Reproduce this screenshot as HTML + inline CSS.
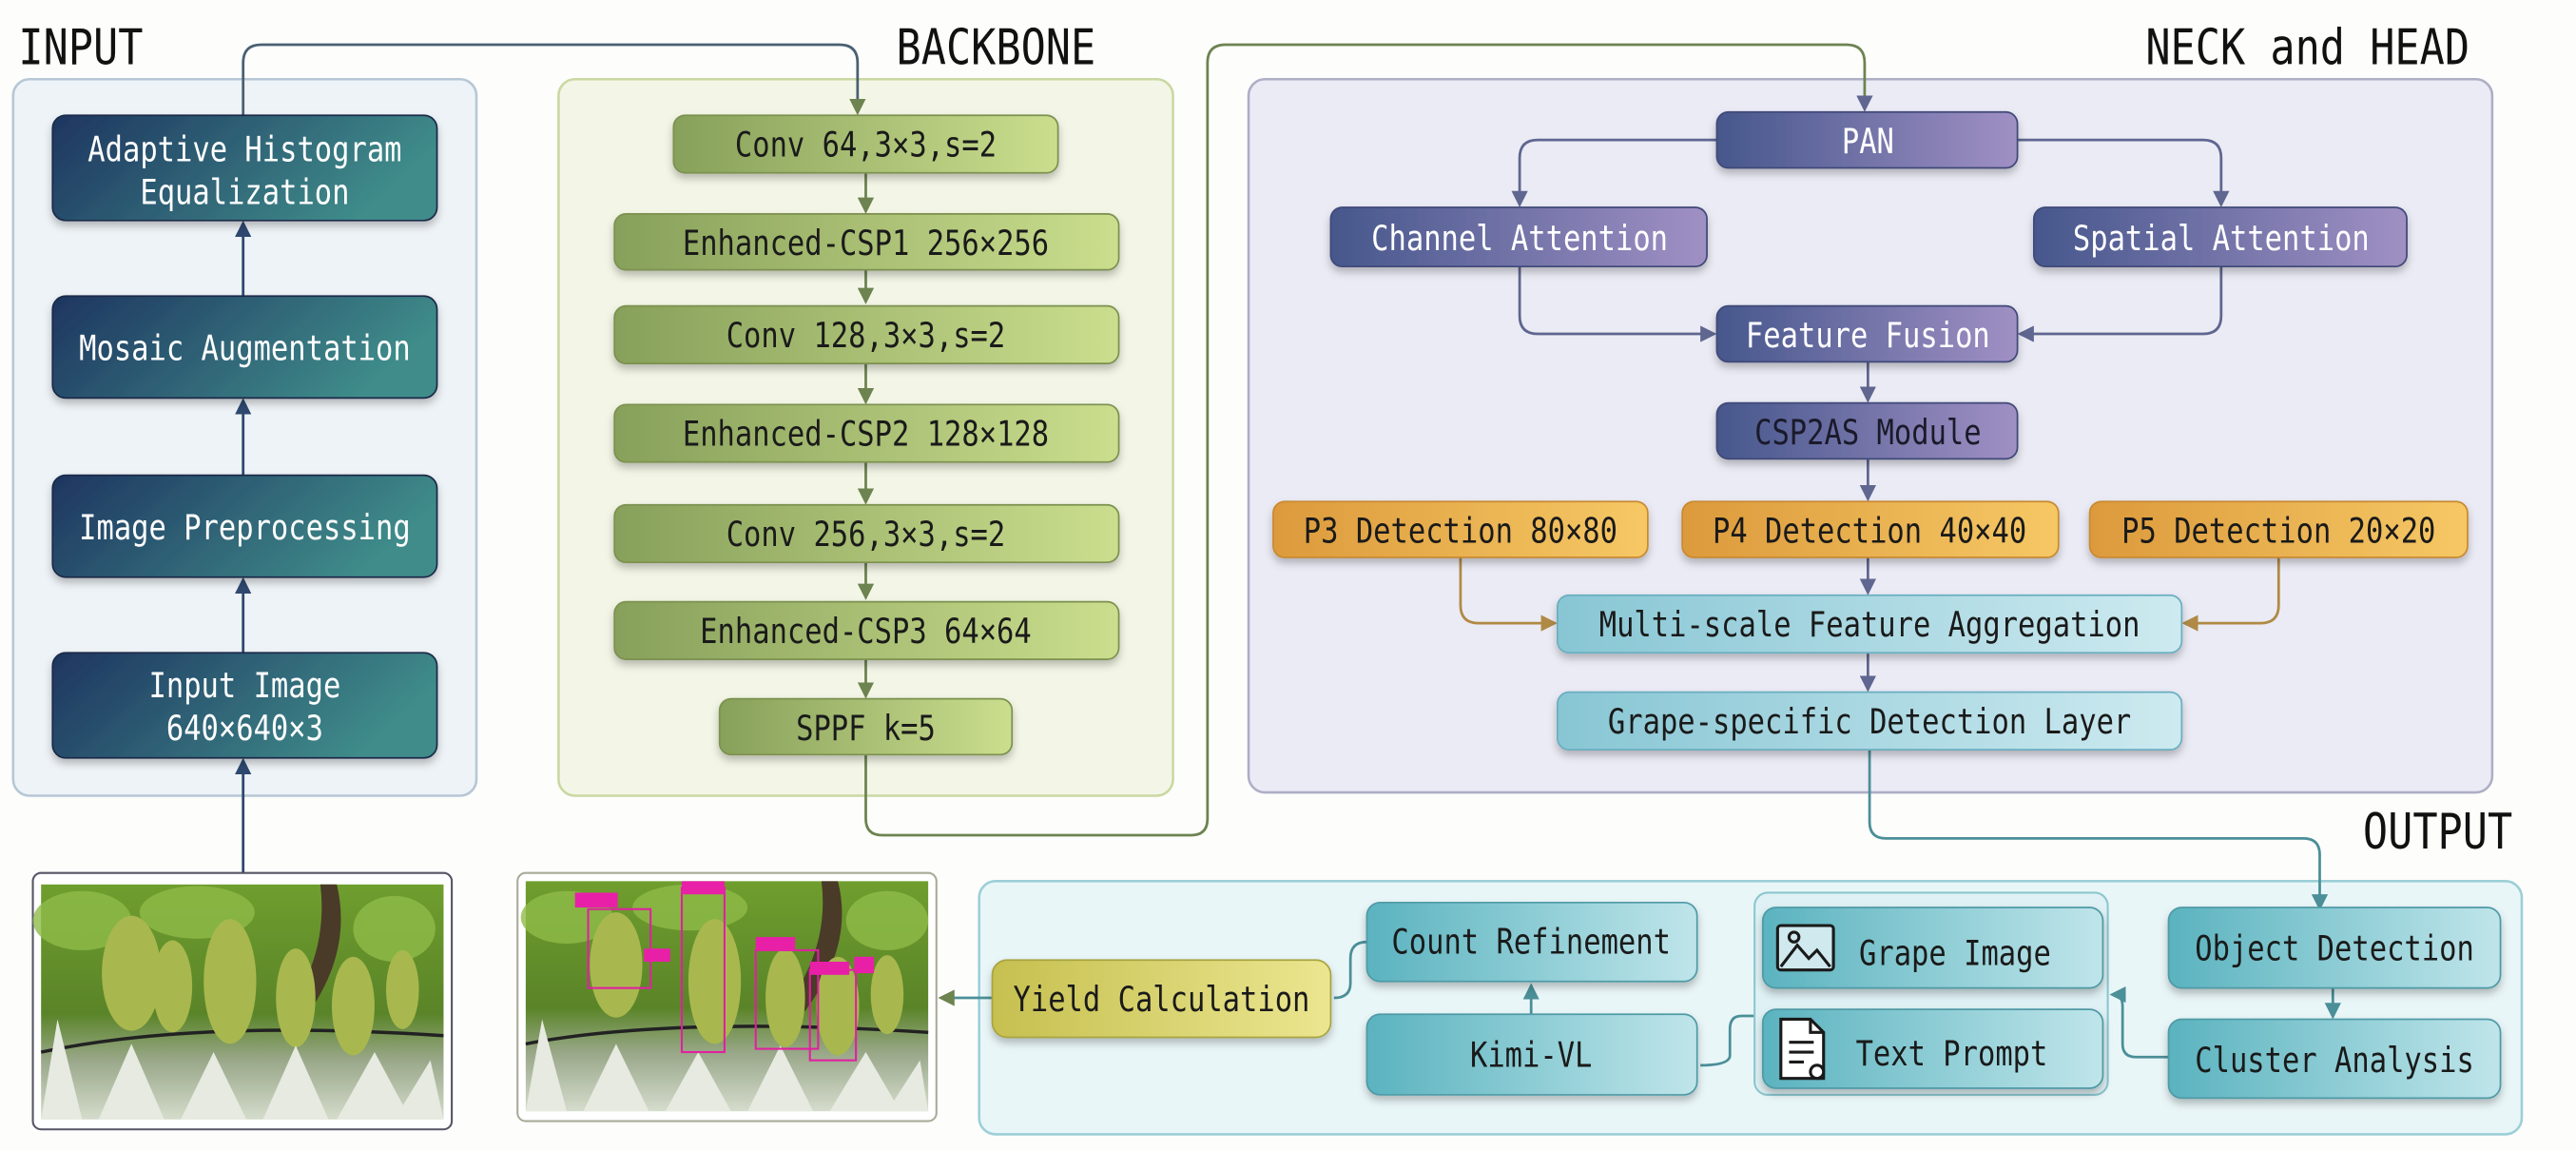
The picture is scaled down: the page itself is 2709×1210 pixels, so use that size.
<!DOCTYPE html>
<html><head><meta charset="utf-8"><style>
html,body{margin:0;padding:0;background:#fdfdfc;}
svg{display:block}
text{font-family:"DejaVu Sans Mono","Liberation Mono",monospace;transform-box:fill-box;transform-origin:center;transform:scaleX(0.84);}
</style></head><body>
<svg width="2709" height="1210" viewBox="0 0 1568 700" xmlns="http://www.w3.org/2000/svg">
<defs>
<linearGradient id="gIn" x1="0" y1="0" x2="1" y2="0.3"><stop offset="0" stop-color="#1e3560"/><stop offset="1" stop-color="#3f8c8a"/></linearGradient>
<linearGradient id="gBb" x1="0" y1="0" x2="1" y2="0"><stop offset="0" stop-color="#87a05a"/><stop offset="1" stop-color="#cbde8e"/></linearGradient>
<linearGradient id="gNk" x1="0" y1="0" x2="1" y2="0"><stop offset="0" stop-color="#46578c"/><stop offset="1" stop-color="#a090c4"/></linearGradient>
<linearGradient id="gOr" x1="0" y1="0" x2="1" y2="0"><stop offset="0" stop-color="#dc9a3c"/><stop offset="1" stop-color="#f6c865"/></linearGradient>
<linearGradient id="gLb" x1="0" y1="0" x2="1" y2="0"><stop offset="0" stop-color="#88c6d4"/><stop offset="1" stop-color="#cdeaf0"/></linearGradient>
<linearGradient id="gOt" x1="0" y1="0" x2="1" y2="0"><stop offset="0" stop-color="#5ab3bf"/><stop offset="1" stop-color="#bfe5ea"/></linearGradient>
<linearGradient id="gYl" x1="0" y1="0" x2="1" y2="0"><stop offset="0" stop-color="#c6c050"/><stop offset="1" stop-color="#ebe690"/></linearGradient>
<linearGradient id="gPh" x1="0" y1="0" x2="0" y2="1"><stop offset="0" stop-color="#6f9e2e"/><stop offset="0.55" stop-color="#5a8428"/><stop offset="0.75" stop-color="#9aa88a"/><stop offset="1" stop-color="#d5dccc"/></linearGradient>
<filter id="sh" x="-10%" y="-20%" width="120%" height="150%"><feDropShadow dx="0" dy="3" stdDeviation="2.5" flood-opacity="0.25"/></filter>
<marker id="aN" markerWidth="10" markerHeight="10" refX="8" refY="5" orient="auto" markerUnits="userSpaceOnUse"><path d="M0,0 L10,5 L0,10 Z" fill="#2f4870"/></marker>
<marker id="aG" markerWidth="10" markerHeight="10" refX="8" refY="5" orient="auto" markerUnits="userSpaceOnUse"><path d="M0,0 L10,5 L0,10 Z" fill="#6d8350"/></marker>
<marker id="aP" markerWidth="10" markerHeight="10" refX="8" refY="5" orient="auto" markerUnits="userSpaceOnUse"><path d="M0,0 L10,5 L0,10 Z" fill="#5f6690"/></marker>
<marker id="aO" markerWidth="10" markerHeight="10" refX="8" refY="5" orient="auto" markerUnits="userSpaceOnUse"><path d="M0,0 L10,5 L0,10 Z" fill="#b08a45"/></marker>
<marker id="aT" markerWidth="10" markerHeight="10" refX="8" refY="5" orient="auto" markerUnits="userSpaceOnUse"><path d="M0,0 L10,5 L0,10 Z" fill="#4b8f98"/></marker>
</defs>

<!-- titles -->
<g font-size="30" fill="#111">
<text x="4" y="39">INPUT</text>
<text x="534" y="39">BACKBONE</text>
<text x="1522" y="39" text-anchor="end">NECK and HEAD</text>
<text x="1538" y="516" text-anchor="end">OUTPUT</text>
</g>

<!-- panels -->
<rect x="8" y="48" width="282" height="436" rx="10" fill="#eef3f7" stroke="#b6c7d5" stroke-width="1.5"/>
<rect x="340" y="48" width="374" height="436" rx="10" fill="#f3f6e6" stroke="#cad8a2" stroke-width="1.5"/>
<rect x="760" y="48" width="757" height="434" rx="10" fill="#ebebf5" stroke="#aeaec6" stroke-width="1.5"/>
<rect x="596" y="536" width="939" height="154" rx="10" fill="#e9f6f8" stroke="#9ccfd7" stroke-width="1.5"/>

<!-- connectors -->
<g fill="none" stroke-width="1.6">
<path d="M148,70 V38 Q148,27 159,27 H511 Q522,27 522,38 V68" stroke="#4a6072" marker-end="url(#aG)"/>
<path d="M148,531 V463" stroke="#2f4870" marker-end="url(#aN)"/>
<path d="M148,397 V353" stroke="#2f4870" marker-end="url(#aN)"/>
<path d="M148,289 V244" stroke="#2f4870" marker-end="url(#aN)"/>
<path d="M148,180 V136" stroke="#2f4870" marker-end="url(#aN)"/>
<g stroke="#6d8350">
<path d="M527,105 V128" marker-end="url(#aG)"/>
<path d="M527,164 V183" marker-end="url(#aG)"/>
<path d="M527,221 V244" marker-end="url(#aG)"/>
<path d="M527,281 V305" marker-end="url(#aG)"/>
<path d="M527,342 V363" marker-end="url(#aG)"/>
<path d="M527,401 V423" marker-end="url(#aG)"/>
<path d="M527,459 V498 Q527,508 537,508 H725 Q735,508 735,498 V38 Q735,27 746,27 H1124 Q1135,27 1135,38 V66" marker-end="url(#aP)"/>
</g>
<g stroke="#5f6690">
<path d="M1045,85 H936 Q925,85 925,96 V124" marker-end="url(#aP)"/>
<path d="M1228,85 H1341 Q1352,85 1352,96 V124" marker-end="url(#aP)"/>
<path d="M925,162 V192 Q925,203 936,203 H1043" marker-end="url(#aP)"/>
<path d="M1352,162 V192 Q1352,203 1341,203 H1230" marker-end="url(#aP)"/>
<path d="M1137,220 V243" marker-end="url(#aP)"/>
<path d="M1137,279 V303" marker-end="url(#aP)"/>
<path d="M1137,339 V360" marker-end="url(#aP)"/>
<path d="M1137,397 V419" marker-end="url(#aP)"/>
</g>
<g stroke="#b08a45">
<path d="M889,339 V368 Q889,379 900,379 H946" marker-end="url(#aO)"/>
<path d="M1387,339 V368 Q1387,379 1376,379 H1330" marker-end="url(#aO)"/>
</g>
<g stroke="#4b8f98">
<path d="M1138,456 V500 Q1138,510 1148,510 H1402 Q1412,510 1412,520 V552" marker-end="url(#aT)"/>
<path d="M1420,601 V618" marker-end="url(#aT)"/>
<path d="M1320,643 H1300 Q1292,643 1292,635 V612 Q1292,605 1286,605" marker-end="url(#aT)"/>
<path d="M1068,618 H1060 Q1053,618 1053,626 V642 Q1053,648 1035,648"/>
<path d="M932,617 V600" marker-end="url(#aT)"/>
<path d="M832,573 Q822,573 822,583 V598 Q822,607 812,607"/>
<path d="M604,607 H573" marker-end="url(#aG)"/>
</g>
</g>

<!-- input boxes -->
<g filter="url(#sh)" stroke="#1a2c48" stroke-width="1">
<rect x="32" y="70" width="234" height="64" rx="8" fill="url(#gIn)"/>
<rect x="32" y="180" width="234" height="62" rx="8" fill="url(#gIn)"/>
<rect x="32" y="289" width="234" height="62" rx="8" fill="url(#gIn)"/>
<rect x="32" y="397" width="234" height="64" rx="8" fill="url(#gIn)"/>
</g>
<g fill="#fff" font-size="21" text-anchor="middle">
<text x="149" y="98">Adaptive Histogram</text>
<text x="149" y="124">Equalization</text>
<text x="149" y="219">Mosaic Augmentation</text>
<text x="149" y="328">Image Preprocessing</text>
<text x="149" y="424">Input Image</text>
<text x="149" y="450">640×640×3</text>
</g>

<!-- backbone boxes -->
<g filter="url(#sh)" stroke="#7b9150" stroke-width="1">
<rect x="410" y="70" width="234" height="35" rx="7" fill="url(#gBb)"/>
<rect x="374" y="130" width="307" height="34" rx="7" fill="url(#gBb)"/>
<rect x="374" y="186" width="307" height="35" rx="7" fill="url(#gBb)"/>
<rect x="374" y="246" width="307" height="35" rx="7" fill="url(#gBb)"/>
<rect x="374" y="307" width="307" height="35" rx="7" fill="url(#gBb)"/>
<rect x="374" y="366" width="307" height="35" rx="7" fill="url(#gBb)"/>
<rect x="438" y="425" width="178" height="34" rx="7" fill="url(#gBb)"/>
</g>
<g fill="#1a1a1a" font-size="21" text-anchor="middle">
<text x="527" y="95">Conv 64,3×3,s=2</text>
<text x="527" y="155">Enhanced-CSP1 256×256</text>
<text x="527" y="211">Conv 128,3×3,s=2</text>
<text x="527" y="271">Enhanced-CSP2 128×128</text>
<text x="527" y="332">Conv 256,3×3,s=2</text>
<text x="527" y="391">Enhanced-CSP3 64×64</text>
<text x="527" y="450">SPPF k=5</text>
</g>

<!-- neck boxes -->
<g filter="url(#sh)" stroke="#3f4a78" stroke-width="1">
<rect x="1045" y="68" width="183" height="34" rx="7" fill="url(#gNk)"/>
<rect x="810" y="126" width="229" height="36" rx="7" fill="url(#gNk)"/>
<rect x="1238" y="126" width="227" height="36" rx="7" fill="url(#gNk)"/>
<rect x="1045" y="186" width="183" height="34" rx="7" fill="url(#gNk)"/>
<rect x="1045" y="245" width="183" height="34" rx="7" fill="url(#gNk)"/>
</g>
<g filter="url(#sh)" stroke="#c88a30" stroke-width="1">
<rect x="775" y="305" width="228" height="34" rx="7" fill="url(#gOr)"/>
<rect x="1024" y="305" width="229" height="34" rx="7" fill="url(#gOr)"/>
<rect x="1272" y="305" width="230" height="34" rx="7" fill="url(#gOr)"/>
</g>
<g filter="url(#sh)" stroke="#6aaec0" stroke-width="1">
<rect x="948" y="362" width="380" height="35" rx="7" fill="url(#gLb)"/>
<rect x="948" y="421" width="380" height="35" rx="7" fill="url(#gLb)"/>
</g>
<g font-size="21" text-anchor="middle">
<text x="1137" y="93" fill="#fff">PAN</text>
<text x="925" y="152" fill="#fff">Channel Attention</text>
<text x="1352" y="152" fill="#fff">Spatial Attention</text>
<text x="1137" y="211" fill="#fff">Feature Fusion</text>
<text x="1137" y="270" fill="#1a1a2a">CSP2AS Module</text>
<text x="889" y="330" fill="#1a1a1a">P3 Detection 80×80</text>
<text x="1138" y="330" fill="#1a1a1a">P4 Detection 40×40</text>
<text x="1387" y="330" fill="#1a1a1a">P5 Detection 20×20</text>
<text x="1138" y="387" fill="#1a1a1a">Multi-scale Feature Aggregation</text>
<text x="1138" y="446" fill="#1a1a1a">Grape-specific Detection Layer</text>
</g>

<!-- output -->
<rect x="1068" y="543" width="215" height="123" rx="8" fill="#dff1f4" stroke="#8cc6cf" stroke-width="1.2"/>
<g filter="url(#sh)" stroke="#4f9aa6" stroke-width="1">
<rect x="604" y="584" width="206" height="47" rx="9" fill="url(#gYl)" stroke="#a8a440"/>
<rect x="832" y="549" width="201" height="48" rx="8" fill="url(#gOt)"/>
<rect x="832" y="617" width="201" height="49" rx="8" fill="url(#gOt)"/>
<rect x="1073" y="552" width="207" height="49" rx="8" fill="url(#gOt)"/>
<rect x="1073" y="614" width="207" height="48" rx="8" fill="url(#gOt)"/>
<rect x="1320" y="552" width="202" height="49" rx="8" fill="url(#gOt)"/>
<rect x="1320" y="620" width="202" height="48" rx="8" fill="url(#gOt)"/>
</g>
<!-- icons -->
<g fill="none" stroke="#1a1a1a" stroke-width="1.8">
<rect x="1082" y="563" width="34" height="27" rx="2" fill="#cfe9ee"/>
<path d="M1084,588 L1094,575 L1101,583 L1106,578 L1114,588"/>
<circle cx="1092" cy="570" r="3"/>
<path d="M1084,620 H1102 L1110,628 V656 H1084 Z" fill="#fff"/>
<path d="M1102,620 V628 H1110 M1089,634 H1104 M1089,640 H1104 M1089,646 H1098"/>
<circle cx="1106" cy="652" r="4" fill="#fff"/>
</g>
<g fill="#1a1a1a" font-size="21" text-anchor="middle">
<text x="707" y="615">Yield Calculation</text>
<text x="932" y="580">Count Refinement</text>
<text x="932" y="649">Kimi-VL</text>
<text x="1190" y="587">Grape Image</text>
<text x="1188" y="648">Text Prompt</text>
<text x="1421" y="584">Object Detection</text>
<text x="1421" y="652">Cluster Analysis</text>
</g>

<!-- photos -->
<g>
<rect x="20" y="531" width="255" height="156" rx="5" fill="#fff" stroke="#556" stroke-width="1.2"/>
<rect x="25" y="538" width="245" height="143" fill="url(#gPh)"/>
<g fill="#8fbb48" opacity="0.8"><ellipse cx="50" cy="560" rx="30" ry="18"/><ellipse cx="120" cy="555" rx="35" ry="16"/><ellipse cx="240" cy="565" rx="25" ry="20"/></g>
<path d="M205,538 Q215,580 185,620 L175,615 Q200,580 195,538 Z" fill="#4a3a28"/>
<path d="M25,640 Q120,620 270,630" stroke="#222" stroke-width="2" fill="none"/>
<g fill="#a8b84e">
<ellipse cx="80" cy="592" rx="18" ry="35"/><ellipse cx="105" cy="600" rx="12" ry="28"/><ellipse cx="140" cy="597" rx="16" ry="38"/><ellipse cx="180" cy="607" rx="12" ry="30"/><ellipse cx="215" cy="612" rx="13" ry="30"/><ellipse cx="245" cy="602" rx="10" ry="24"/>
</g>
<g fill="#e6eae0"><path d="M25,681 L35,620 L50,681 Z M60,681 L80,635 L100,681 Z M110,681 L130,640 L150,681 Z M160,681 L180,636 L200,681 Z M205,681 L228,640 L250,681 Z M240,681 L262,645 L270,681 Z"/></g>

<rect x="315" y="531" width="255" height="151" rx="5" fill="#fff" stroke="#aa9" stroke-width="1.2"/>
<rect x="320" y="536" width="245" height="140" fill="url(#gPh)"/>
<g fill="#8fbb48" opacity="0.8"><ellipse cx="345" cy="558" rx="28" ry="16"/><ellipse cx="420" cy="552" rx="35" ry="14"/><ellipse cx="540" cy="560" rx="25" ry="18"/></g>
<path d="M510,536 Q520,575 490,615 L480,610 Q505,575 500,536 Z" fill="#4a3a28"/>
<path d="M320,635 Q410,618 565,628" stroke="#222" stroke-width="2" fill="none"/>
<g fill="#a8b84e">
<ellipse cx="375" cy="587" rx="16" ry="32"/><ellipse cx="435" cy="597" rx="16" ry="38"/><ellipse cx="478" cy="607" rx="12" ry="30"/><ellipse cx="510" cy="612" rx="13" ry="30"/><ellipse cx="540" cy="605" rx="10" ry="24"/>
</g>
<g fill="#e6eae0"><path d="M320,676 L330,620 L345,676 Z M355,676 L375,635 L395,676 Z M405,676 L425,640 L445,676 Z M455,676 L475,636 L495,676 Z M505,676 L527,640 L548,676 Z M540,676 L560,645 L565,676 Z"/></g>
<g fill="none" stroke="#e020a0" stroke-width="1.2">
<rect x="358" y="553" width="38" height="48"/><rect x="415" y="540" width="26" height="100"/><rect x="460" y="578" width="38" height="60"/><rect x="493" y="590" width="28" height="55"/>
</g>
<g fill="#e820a8"><rect x="350" y="543" width="26" height="9"/><rect x="415" y="536" width="26" height="8"/><rect x="460" y="570" width="24" height="8"/><rect x="493" y="585" width="24" height="8"/><rect x="520" y="582" width="12" height="10"/><rect x="392" y="577" width="16" height="8"/></g>
</g>
</svg>
</body></html>
